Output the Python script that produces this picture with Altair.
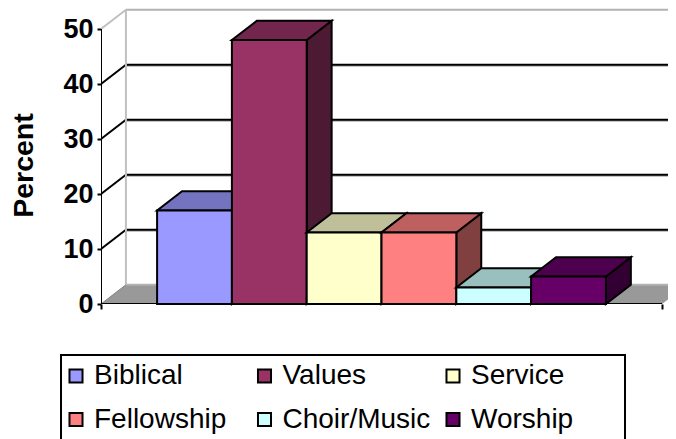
import altair as alt
import pandas as pd

categories = ["Biblical", "Values", "Service", "Fellowship", "Choir/Music", "Worship"]
values = [17, 48, 13, 13, 3, 5]
front_colors = ["#9999FF", "#993366", "#FFFFCC", "#FF8080", "#CCFFFF", "#660066"]
top_colors = ["#7373BF", "#73264D", "#BFBF99", "#BF6060", "#99BFBF", "#4D004D"]
side_colors = ["#4D4D80", "#4D1A33", "#808066", "#804040", "#668080", "#330033"]
grid_values = [10, 20, 30, 40]
y_ticks = [0, 10, 20, 30, 40, 50]

X_LEFT, X_RIGHT = -0.75, 6.75     # ends of the front floor edge, in category units
X_MAX = 6.83                      # chart edge
DX, DY = 1 / 3, 3.5               # perspective offset of the depth, in data units
Y_MAX = 296 / 5.5
FONT = "Liberation Sans"
GRID_BLACK = "#000000"
GRID_GRAY = "#B2B2B2"
WALL_GRAY = "#C0C0C0"

x_scale = alt.Scale(domain=[X_LEFT, X_MAX], nice=False, zero=False)
y_scale = alt.Scale(domain=[0, Y_MAX], nice=False, zero=False)
x_enc = alt.X(
    "x:Q", scale=x_scale, title=None,
    axis=alt.Axis(values=[X_LEFT, X_RIGHT], labels=False, domain=False, grid=False,
                  tickSize=5, tickWidth=2, tickColor="black", title=None),
)
y_enc = alt.Y(
    "y:Q", scale=y_scale,
    axis=alt.Axis(values=y_ticks, domain=False, grid=False, title="Percent",
                  tickSize=4, tickWidth=2, tickColor="black",
                  labelFont=FONT, labelFontSize=27, labelFontWeight="bold", labelColor="black",
                  labelPadding=4, labelFlush=False, labelOverlap=False,
                  titleFont=FONT, titleFontSize=28.5, titleFontWeight="bold", titleColor="black",
                  titleX=-78, titleY=157, titleAngle=270, titleAlign="center", titleBaseline="middle"),
)
color_enc = alt.Color(
    "cat:N",
    scale=alt.Scale(domain=categories, range=front_colors),
    sort=None,
    legend=alt.Legend(
        title=None, orient="none", legendX=-42, legendY=346, columns=3, direction="horizontal",
        symbolType="square", symbolSize=170, symbolStrokeColor="black", symbolStrokeWidth=2,
        symbolOffset=-5,
        labelFont=FONT, labelFontSize=28, labelColor="black", labelOffset=4, labelLimit=300,
        gridAlign="all", columnPadding=11.5, rowPadding=15.5, padding=8, zindex=1,
    ),
)


def parallelogram(x0, x1, v):
    xs = [x0, x0 + DX, x1, x1 + DX]
    return pd.DataFrame({
        "x": xs,
        "y": [v, v, v, v + DY],
        "y2": [v, v + DY, v + DY, v + DY],
    })


def side(x1, v):
    return pd.DataFrame({"x": [x1, x1 + DX], "y": [0, DY], "y2": [v, v + DY]})


def rule(data, color, width, y_off=0):
    return (
        alt.Chart(pd.DataFrame(data))
        .mark_line(color=color, strokeWidth=width, yOffset=y_off, clip=True)
        .encode(x=x_enc, y=y_enc)
    )


layers = []
# legend frame
layers.append(
    alt.Chart(pd.DataFrame({"k": [0]}))
    .mark_rect(fill="white", stroke="black", strokeWidth=2)
    .encode(x=alt.value(-40), x2=alt.value(524), y=alt.value(347), y2=alt.value(445))
)
# floor
layers.append(
    alt.Chart(parallelogram(X_LEFT, X_RIGHT, 0))
    .mark_area(color="#999999", clip=True)
    .encode(x=x_enc, y=y_enc, y2="y2:Q")
)
# back wall gridlines and wall edges
for g in grid_values:
    layers.append(rule({"x": [X_LEFT + DX, X_MAX], "y": [g + DY, g + DY]}, GRID_GRAY, 2, 1))
    layers.append(rule({"x": [X_LEFT + DX, X_MAX], "y": [g + DY, g + DY]}, GRID_BLACK, 2))
    layers.append(rule({"x": [X_LEFT, X_LEFT + DX], "y": [g, g + DY]}, GRID_BLACK, 2))
layers.append(rule({"x": [X_LEFT + DX, X_MAX], "y": [50 + DY, 50 + DY]}, GRID_GRAY, 2))
layers.append(rule({"x": [X_LEFT + DX, X_MAX], "y": [DY, DY]}, GRID_GRAY, 2))
layers.append(rule({"x": [X_LEFT + DX, X_LEFT + DX], "y": [DY, 50 + DY]}, WALL_GRAY, 2))
layers.append(rule({"x": [X_LEFT, X_LEFT + DX], "y": [50, 50 + DY]}, WALL_GRAY, 2))
layers.append(rule({"x": [X_LEFT, X_LEFT + DX], "y": [0, DY]}, "#808080", 1))

# bars, painted left to right so nearer faces cover farther ones
for i, (cat, v) in enumerate(zip(categories, values)):
    layers.append(
        alt.Chart(side(i + 1, v))
        .mark_area(color=side_colors[i], stroke="black", strokeWidth=2, strokeJoin="miter")
        .encode(x=x_enc, y=y_enc, y2="y2:Q")
    )
    layers.append(
        alt.Chart(parallelogram(i, i + 1, v))
        .mark_area(color=top_colors[i], stroke="black", strokeWidth=2, strokeJoin="miter")
        .encode(x=x_enc, y=y_enc, y2="y2:Q")
    )
    layers.append(
        alt.Chart(pd.DataFrame({"cat": [cat], "x": [i], "x2": [i + 1], "y": [0], "y2": [v]}))
        .mark_bar(stroke="black", strokeWidth=2)
        .encode(x=x_enc, x2="x2:Q", y=y_enc, y2="y2:Q", color=color_enc)
    )

# front axis lines
layers.append(rule({"x": [X_LEFT, X_RIGHT], "y": [0, 0]}, "black", 2))
layers.append(rule({"x": [X_LEFT, X_LEFT], "y": [0, 50]}, "black", 2))

chart = (
    alt.layer(*layers)
    .properties(
        width=567, height=296,
        padding={"left": 93, "top": 0, "right": 0, "bottom": 135},
        autosize=alt.AutoSizeParams(type="none"),
        background="white",
    )
    .configure_view(stroke=None)
)
chart.save("out.html", embed_options={"renderer": "svg", "actions": False})
